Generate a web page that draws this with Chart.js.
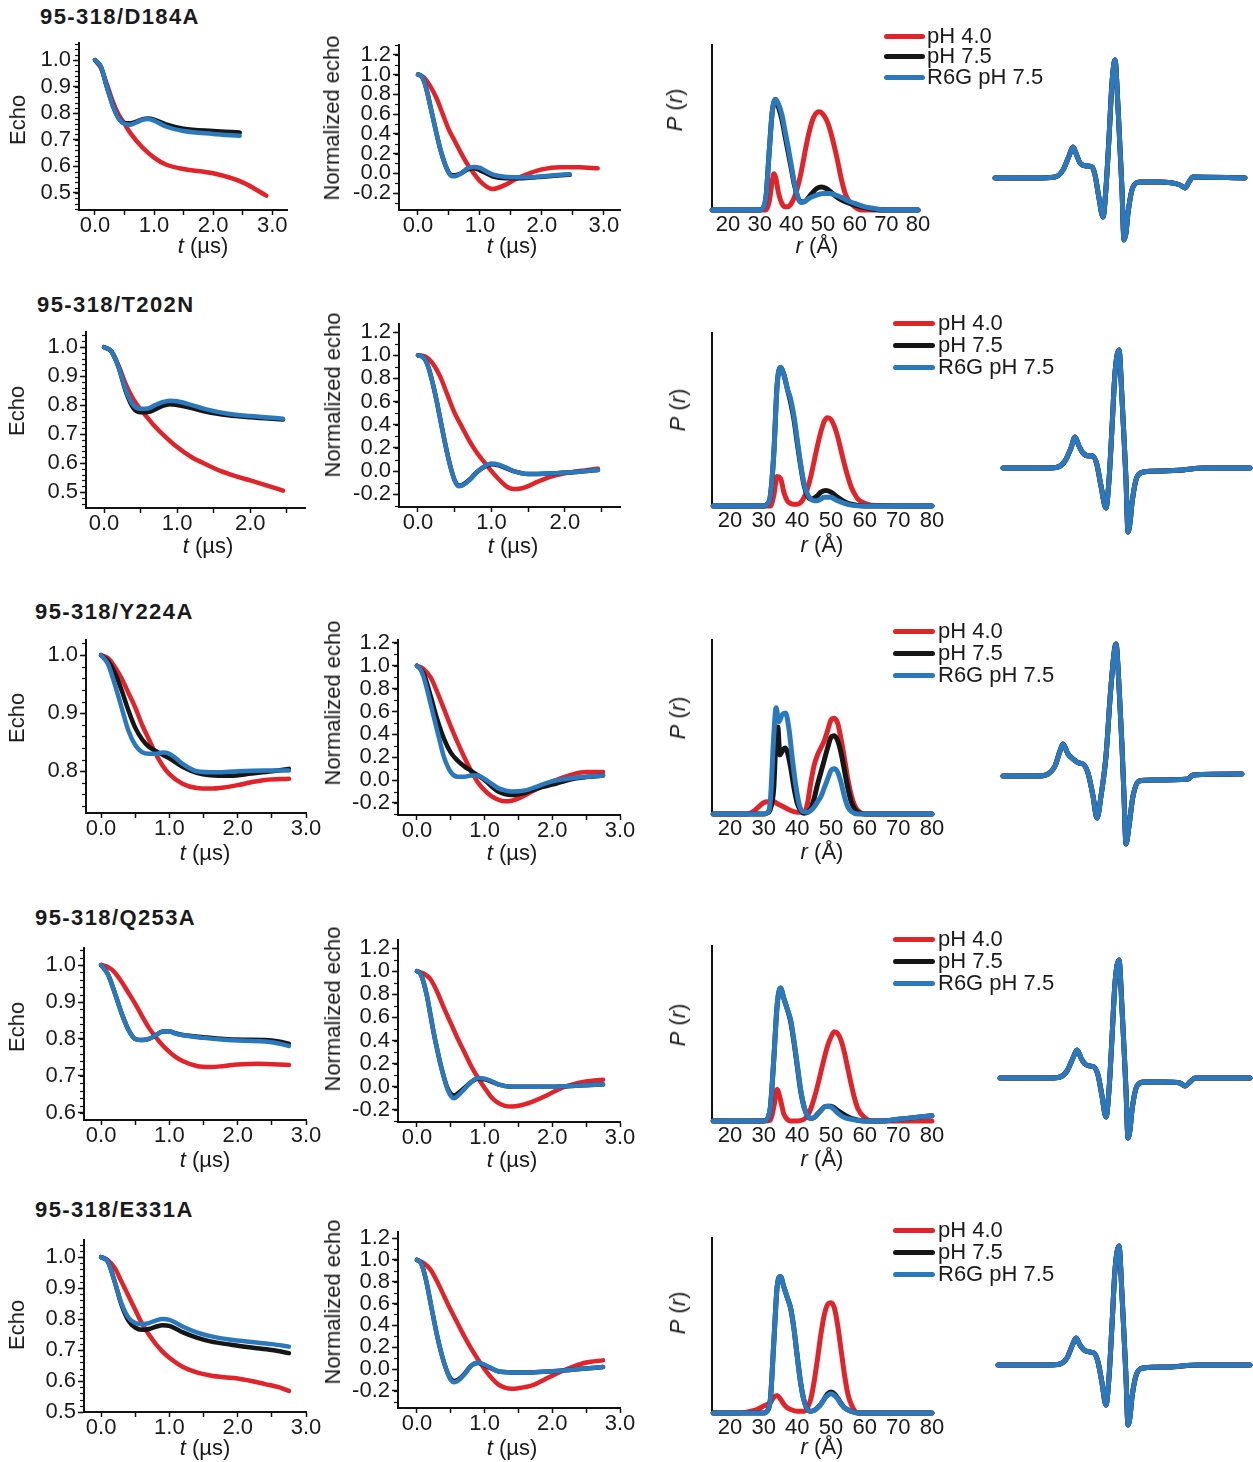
<!DOCTYPE html>
<html><head><meta charset="utf-8">
<script src="https://cdn.jsdelivr.net/npm/chart.js@4.4.1/dist/chart.umd.min.js"></script>
<style>
body{margin:0;background:#fff;width:1253px;height:1462px;position:relative;overflow:hidden;font-family:"Liberation Sans",Arial,sans-serif;color:#1a1a1a}
canvas{position:absolute}
.ttl{position:absolute;font-weight:bold;font-size:22px;letter-spacing:1.4px;white-space:nowrap;transform:translateY(-50%)}
.cap{position:absolute;font-size:22px;white-space:nowrap;transform:translate(-50%,-50%);line-height:1}
.vcap{position:absolute;font-size:22px;white-space:nowrap;transform:translate(-50%,-50%) rotate(-90deg);line-height:1}
.legline{position:absolute;height:5px;border-radius:3px}
.legtxt{position:absolute;font-size:22px;white-space:nowrap;line-height:1;transform:translateY(-50%)}
</style></head><body>
<script>
// ---------------- labels ----------------
const rowTitles = ['95-318/D184A','95-318/T202N','95-318/Y224A','95-318/Q253A','95-318/E331A'];
const seriesLabels = ['pH 4.0','pH 7.5','R6G pH 7.5'];
const seriesColors = ['#e1232a','#161616','#2b79bd'];

// ---------------- tick values ----------------
const echoYTicks1 = [0.5,0.6,0.7,0.8,0.9,1.0];
const echoYTicks2 = [0.5,0.6,0.7,0.8,0.9,1.0];
const echoYTicks3 = [0.8,0.9,1.0];
const echoYTicks4 = [0.6,0.7,0.8,0.9,1.0];
const echoYTicks5 = [0.5,0.6,0.7,0.8,0.9,1.0];
const normYTicks = [-0.2,0,0.2,0.4,0.6,0.8,1.0,1.2];
const timeTicks30 = [0,0.5,1,1.5,2,2.5,3];
const timeTicks25 = [0,0.5,1,1.5,2,2.5];
const rTicks = [20,30,40,50,60,70,80];

// ---------------- row 1 : D184A ----------------
const r1EchoRedT = [0,0.1,0.2,0.3,0.4,0.5,0.6,0.8,1.0,1.2,1.5,2.0,2.5,2.9];
const r1EchoRed  = [1.0,0.97,0.91,0.845,0.795,0.76,0.725,0.672,0.633,0.607,0.59,0.574,0.54,0.49];
const r1EchoBlueT = [0,0.1,0.2,0.3,0.4,0.5,0.6,0.7,0.8,0.9,1.0,1.2,1.5,2.0,2.45];
const r1EchoBlue  = [1.0,0.975,0.9,0.83,0.78,0.76,0.757,0.765,0.775,0.778,0.772,0.75,0.733,0.722,0.715];
const r1EchoBlack = [1.0,0.975,0.9,0.83,0.782,0.763,0.762,0.768,0.777,0.78,0.776,0.758,0.742,0.733,0.727];
const r1NormRedT = [0,0.1,0.2,0.3,0.4,0.5,0.6,0.7,0.8,0.9,1.0,1.2,1.4,1.6,1.8,2.0,2.3,2.6,2.9];
const r1NormRed  = [1.0,0.97,0.88,0.76,0.60,0.44,0.32,0.2,0.09,0.0,-0.08,-0.16,-0.12,-0.05,0.0,0.04,0.06,0.06,0.05];
const r1NormBlueT = [0,0.05,0.1,0.15,0.2,0.25,0.3,0.35,0.4,0.45,0.5,0.55,0.6,0.7,0.8,0.9,1.0,1.1,1.2,1.4,1.6,1.8,2.0,2.2,2.45];
const r1NormBlue  = [1.0,0.99,0.93,0.82,0.68,0.54,0.40,0.27,0.16,0.07,0.0,-0.03,-0.03,0.0,0.05,0.065,0.055,0.02,-0.01,-0.035,-0.04,-0.04,-0.03,-0.02,-0.01];
const r1NormBlack = [1.0,0.99,0.93,0.82,0.68,0.54,0.40,0.27,0.16,0.07,0.005,-0.02,-0.02,0.0,0.04,0.05,0.03,0.0,-0.03,-0.05,-0.05,-0.045,-0.035,-0.025,-0.015];
const r1PrRedR = [15,30,32,33,34,34.5,35,36,37,38,39,40,41,42,43,44,45,46,47,48,49,50,51,52,53,54,55,56,57,58,60,62,80];
const r1PrRed  = [0,0,0,0.05,0.18,0.22,0.2,0.1,0.04,0.02,0.02,0.04,0.08,0.14,0.22,0.32,0.42,0.50,0.56,0.59,0.595,0.58,0.55,0.50,0.43,0.35,0.26,0.17,0.1,0.06,0.02,0.0,0];
const r1PrBlackR = [15,30,31,32,33,34,35,36,37,38,39,40,41,42,43,44,46,48,49.5,51,53,55,57,60,63,66,70,80];
const r1PrBlack  = [0,0,0.01,0.08,0.35,0.6,0.67,0.62,0.55,0.45,0.35,0.25,0.15,0.08,0.05,0.05,0.09,0.13,0.14,0.13,0.1,0.07,0.05,0.03,0.015,0.005,0,0];
const r1PrBlueR = [15,30,31,32,33,34,35,36,37,38,39,40,41,42,43,44,46,48,50,52,54,56,58,60,63,66,70,80];
const r1PrBlue  = [0,0,0.01,0.08,0.35,0.6,0.67,0.64,0.58,0.48,0.38,0.27,0.16,0.08,0.045,0.05,0.075,0.09,0.1,0.1,0.09,0.075,0.055,0.04,0.02,0.01,0,0];
const r1SpecX = [0,40,60,68,74,78,82,85,92,97,100,104,108,111,114,117,120,123,125,127,129,131,133,138,145,165,185,190,194,198,250];
const r1SpecY = [0,0,1,8,22,31,22,15,12,11,3,-20,-39,-10,40,95,118,71,30,-12,-62,-55,-35,-9,-4,-4,-7,-10,-4,1,0];

// ---------------- row 2 : T202N ----------------
const r2EchoRedT = [0,0.1,0.2,0.3,0.4,0.5,0.6,0.7,0.8,1.0,1.2,1.4,1.6,1.8,2.0,2.2,2.45];
const r2EchoRed  = [1.0,0.985,0.935,0.87,0.82,0.785,0.755,0.725,0.70,0.655,0.62,0.595,0.572,0.555,0.54,0.525,0.505];
const r2EchoBlueT = [0,0.1,0.2,0.3,0.4,0.5,0.6,0.7,0.8,0.9,1.0,1.2,1.4,1.7,2.0,2.45];
const r2EchoBlue  = [1.0,0.985,0.93,0.85,0.80,0.787,0.788,0.80,0.81,0.815,0.813,0.80,0.785,0.77,0.762,0.753];
const r2EchoBlack = [1.0,0.985,0.93,0.845,0.79,0.775,0.776,0.785,0.797,0.803,0.80,0.79,0.777,0.765,0.758,0.75];
const r2NormRedT = [0,0.1,0.2,0.3,0.4,0.5,0.6,0.7,0.8,0.9,1.0,1.1,1.2,1.3,1.4,1.5,1.6,1.8,2.0,2.2,2.45];
const r2NormRed  = [1.0,0.99,0.93,0.82,0.66,0.50,0.38,0.26,0.16,0.08,0.0,-0.07,-0.13,-0.155,-0.15,-0.13,-0.10,-0.05,-0.02,0.0,0.02];
const r2NormBlueT = [0,0.05,0.1,0.15,0.2,0.25,0.3,0.35,0.4,0.45,0.5,0.55,0.6,0.7,0.8,0.9,1.0,1.1,1.2,1.3,1.5,1.8,2.1,2.45];
const r2NormBlue  = [1.0,0.99,0.96,0.88,0.76,0.62,0.46,0.30,0.15,0.02,-0.08,-0.13,-0.125,-0.08,-0.01,0.04,0.065,0.055,0.03,0.0,-0.025,-0.02,-0.01,0.01];
const r2NormBlack = [1.0,0.99,0.96,0.88,0.76,0.62,0.46,0.30,0.15,0.02,-0.08,-0.125,-0.12,-0.075,-0.01,0.035,0.06,0.05,0.025,0.0,-0.025,-0.02,-0.01,0.01];
const r2PrRedR = [15,30,32,33,34,35,36,37,38,39,40,41,42,43,44,45,46,47,48,49,50,51,52,53,54,55,56,57,58,60,62,80];
const r2PrRed  = [0,0,0,0.06,0.17,0.16,0.08,0.03,0.015,0.01,0.01,0.02,0.05,0.1,0.17,0.26,0.35,0.43,0.49,0.51,0.5,0.46,0.4,0.32,0.24,0.17,0.11,0.07,0.04,0.015,0.005,0];
const r2PrBlackR = [15,30,31,32,33,34,35,36,37,38,39,40,41,42,43,44,46,47,48.5,50,52,54,56,60,80];
const r2PrBlack  = [0,0,0.01,0.06,0.3,0.7,0.8,0.76,0.68,0.6,0.5,0.36,0.23,0.12,0.06,0.04,0.06,0.08,0.09,0.08,0.05,0.025,0.01,0,0];
const r2PrBlueR = [15,30,31,32,33,34,35,36,37,38,39,40,41,42,43,44,45,46,47,48,49,50,51,52,54,56,60,80];
const r2PrBlue  = [0,0,0.01,0.06,0.3,0.7,0.8,0.76,0.68,0.62,0.52,0.38,0.24,0.13,0.07,0.04,0.03,0.03,0.04,0.05,0.05,0.05,0.04,0.03,0.015,0.005,0,0];
const r2SpecX = [0,45,55,62,68,72,76,80,86,90,94,98,103,106,109,112,116,119,121,123,125,127,129,134,141,160,180,200,247];
const r2SpecY = [0,0,1,7,20,31,22,15,12,12,3,-18,-40,-12,40,95,118,70,30,-12,-64,-55,-35,-9,-4,-3,-2,0,0];

// ---------------- row 3 : Y224A ----------------
const r3EchoRedT = [0,0.1,0.2,0.3,0.4,0.5,0.6,0.7,0.8,0.9,1.0,1.2,1.4,1.6,1.8,2.0,2.2,2.4,2.75];
const r3EchoRed  = [1.0,0.995,0.98,0.96,0.935,0.91,0.88,0.855,0.83,0.81,0.795,0.778,0.771,0.77,0.772,0.776,0.781,0.785,0.787];
const r3EchoBlackT = [0,0.1,0.2,0.3,0.4,0.5,0.6,0.7,0.8,1.0,1.2,1.4,1.6,1.9,2.2,2.5,2.75];
const r3EchoBlack  = [1.0,0.99,0.97,0.94,0.905,0.875,0.855,0.842,0.835,0.822,0.807,0.797,0.793,0.792,0.796,0.8,0.804];
const r3EchoBlueT = [0,0.1,0.2,0.3,0.4,0.5,0.6,0.7,0.8,0.9,1.0,1.1,1.2,1.4,1.7,2.0,2.4,2.75];
const r3EchoBlue  = [1.0,0.985,0.95,0.91,0.87,0.845,0.833,0.83,0.83,0.832,0.83,0.822,0.812,0.8,0.798,0.8,0.801,0.801];
const r3NormRedT = [0,0.1,0.2,0.3,0.4,0.5,0.6,0.7,0.8,0.9,1.0,1.1,1.2,1.3,1.4,1.5,1.7,1.9,2.1,2.3,2.5,2.75];
const r3NormRed  = [1.0,0.97,0.9,0.77,0.62,0.47,0.33,0.2,0.08,-0.02,-0.09,-0.14,-0.17,-0.185,-0.18,-0.16,-0.1,-0.04,0.01,0.05,0.07,0.07];
const r3NormBlackT = [0,0.1,0.2,0.3,0.4,0.5,0.6,0.7,0.8,1.0,1.2,1.4,1.6,1.8,2.0,2.3,2.75];
const r3NormBlack  = [1.0,0.93,0.74,0.53,0.36,0.24,0.17,0.12,0.08,0.0,-0.1,-0.13,-0.11,-0.07,-0.04,0.01,0.04];
const r3NormBlueT = [0,0.05,0.1,0.15,0.2,0.25,0.3,0.35,0.4,0.5,0.6,0.7,0.8,0.9,1.0,1.1,1.2,1.3,1.4,1.6,1.8,2.0,2.2,2.5,2.75];
const r3NormBlue  = [1.0,0.97,0.9,0.79,0.67,0.55,0.43,0.31,0.2,0.07,0.03,0.03,0.04,0.04,0.01,-0.03,-0.07,-0.09,-0.1,-0.09,-0.05,-0.01,0.01,0.03,0.04];
const r3PrRedR = [15,25,27,29,30,31,32,33,34,35,36,37,38,40,42,43,44,45,46,47,48,49,50,51,52,53,54,55,56,57,58,60,80];
const r3PrRed  = [0,0,0.015,0.05,0.065,0.07,0.065,0.07,0.06,0.05,0.04,0.03,0.02,0.01,0.01,0.06,0.18,0.28,0.34,0.38,0.42,0.48,0.54,0.55,0.52,0.43,0.32,0.2,0.11,0.05,0.02,0,0];
const r3PrBlackR = [15,30,31,32,33,33.7,34.2,34.8,35.5,36.3,37,38,39,40,41,42,44,45,46,47,48,49,50,51,52,53,54,55,56,57,58,60,80];
const r3PrBlack  = [0,0,0.005,0.03,0.15,0.45,0.5,0.34,0.36,0.38,0.36,0.27,0.15,0.06,0.02,0.005,0.03,0.09,0.17,0.24,0.31,0.38,0.44,0.45,0.42,0.35,0.25,0.15,0.07,0.03,0.01,0,0];
const r3PrBlueR = [15,30,31,32,33,33.7,34.5,35.5,36.5,37.5,38.5,39.5,40.5,41.5,43,44,45,46,47,48,49,50,51,52,53,54,55,56,58,80];
const r3PrBlue  = [0,0,0.005,0.08,0.45,0.61,0.53,0.57,0.58,0.49,0.32,0.17,0.06,0.015,0.01,0.02,0.04,0.07,0.1,0.15,0.2,0.25,0.26,0.24,0.18,0.1,0.04,0.015,0,0];
const r3SpecX = [0,35,45,52,57,60,65,70,76,80,85,90,94,98,103,108,113,116,119,121,123,126,130,136,150,185,190,239];
const r3SpecY = [0,0,2,10,25,32,22,17,13,12,3,-20,-42,-20,20,90,132,90,30,-20,-68,-50,-20,-5,-4,-3,1,2];

// ---------------- row 4 : Q253A ----------------
const r4EchoRedT = [0,0.1,0.2,0.3,0.4,0.5,0.6,0.7,0.8,0.9,1.0,1.1,1.2,1.4,1.6,1.8,2.0,2.3,2.75];
const r4EchoRed  = [1.0,0.995,0.98,0.955,0.925,0.895,0.862,0.83,0.805,0.783,0.765,0.75,0.74,0.727,0.724,0.727,0.731,0.733,0.73];
const r4EchoBlueT = [0,0.1,0.2,0.3,0.4,0.5,0.6,0.7,0.8,0.9,1.0,1.1,1.2,1.5,1.8,2.1,2.4,2.6,2.75];
const r4EchoBlue  = [1.0,0.975,0.925,0.87,0.825,0.8,0.797,0.8,0.81,0.82,0.82,0.814,0.81,0.803,0.798,0.795,0.793,0.788,0.781];
const r4EchoBlack = [1.0,0.975,0.925,0.87,0.825,0.8,0.797,0.8,0.81,0.82,0.82,0.815,0.811,0.805,0.8,0.798,0.797,0.793,0.787];
const r4NormRedT = [0,0.1,0.2,0.3,0.4,0.5,0.6,0.7,0.8,0.9,1.0,1.1,1.2,1.3,1.4,1.5,1.7,1.9,2.1,2.3,2.5,2.75];
const r4NormRed  = [1.0,0.98,0.93,0.82,0.68,0.55,0.42,0.3,0.18,0.08,-0.01,-0.09,-0.14,-0.165,-0.17,-0.165,-0.13,-0.08,-0.02,0.02,0.045,0.06];
const r4NormBlueT = [0,0.05,0.1,0.15,0.2,0.25,0.3,0.35,0.4,0.45,0.5,0.55,0.6,0.7,0.8,0.9,1.0,1.1,1.2,1.4,1.7,2.0,2.4,2.75];
const r4NormBlue  = [1.0,0.98,0.9,0.78,0.62,0.46,0.32,0.19,0.08,-0.02,-0.08,-0.1,-0.08,-0.02,0.04,0.075,0.07,0.05,0.02,0.0,0.0,0.0,0.01,0.02];
const r4NormBlack = [1.0,0.98,0.9,0.78,0.62,0.46,0.32,0.19,0.08,-0.01,-0.06,-0.075,-0.06,-0.01,0.04,0.07,0.065,0.045,0.02,0.0,0.0,0.0,0.01,0.02];
const r4PrRedR = [15,30,32,33,34,35,36,37,38,40,42,43,44,45,46,47,48,49,50,51,52,53,54,55,56,57,58,60,62,80];
const r4PrRed  = [0,0,0.005,0.08,0.18,0.12,0.04,0.01,0,0,0.01,0.03,0.07,0.13,0.2,0.28,0.36,0.43,0.48,0.51,0.5,0.46,0.39,0.3,0.21,0.13,0.07,0.02,0,0];
const r4PrBlueR = [15,30,31,32,33,34,35,36,37,38,39,40,41,42,43,44,45,46,47,48,49,50,51,52,54,56,60,65,70,75,80];
const r4PrBlue  = [0,0,0.01,0.08,0.35,0.66,0.76,0.7,0.64,0.58,0.46,0.32,0.18,0.08,0.03,0.015,0.02,0.04,0.06,0.08,0.085,0.08,0.065,0.045,0.02,0.01,0.0,0.0,0.01,0.02,0.03];
const r4PrBlack = [0,0,0.01,0.08,0.35,0.66,0.76,0.7,0.64,0.57,0.45,0.31,0.17,0.08,0.03,0.015,0.02,0.04,0.06,0.08,0.085,0.085,0.075,0.06,0.035,0.015,0.0,0.0,0.01,0.02,0.03];
const r4SpecX = [0,50,60,67,73,77,81,85,90,94,98,102,106,109,112,115,119,122,124,126,128,130,132,137,144,165,180,185,190,195,250];
const r4SpecY = [0,0,1,7,20,28,20,14,12,11,3,-18,-39,-12,40,95,118,70,30,-12,-60,-52,-32,-8,-4,-4,-5,-8,-4,0,0];

// ---------------- row 5 : E331A ----------------
const r5EchoRedT = [0,0.1,0.2,0.3,0.4,0.5,0.6,0.7,0.8,0.9,1.0,1.2,1.4,1.6,1.8,2.0,2.2,2.4,2.6,2.75];
const r5EchoRed  = [1.0,0.99,0.965,0.92,0.875,0.83,0.785,0.75,0.72,0.695,0.675,0.645,0.628,0.618,0.612,0.608,0.6,0.59,0.58,0.568];
const r5EchoBlueT = [0,0.1,0.2,0.3,0.4,0.5,0.6,0.7,0.8,0.9,1.0,1.1,1.2,1.4,1.6,1.9,2.2,2.5,2.75];
const r5EchoBlue  = [1.0,0.985,0.92,0.85,0.805,0.787,0.783,0.787,0.795,0.8,0.797,0.787,0.775,0.757,0.745,0.733,0.726,0.719,0.711];
const r5EchoBlack = [1.0,0.985,0.92,0.845,0.795,0.772,0.765,0.768,0.775,0.78,0.778,0.768,0.757,0.74,0.728,0.717,0.708,0.7,0.69];
const r5NormRedT = [0,0.1,0.2,0.3,0.4,0.5,0.6,0.7,0.8,0.9,1.0,1.1,1.2,1.3,1.4,1.5,1.7,1.9,2.1,2.3,2.5,2.75];
const r5NormRed  = [1.0,0.97,0.91,0.8,0.67,0.54,0.42,0.3,0.19,0.09,0.0,-0.08,-0.14,-0.17,-0.18,-0.175,-0.15,-0.09,-0.03,0.02,0.06,0.08];
const r5NormBlueT = [0,0.05,0.1,0.15,0.2,0.25,0.3,0.35,0.4,0.45,0.5,0.55,0.6,0.7,0.8,0.9,1.0,1.1,1.2,1.4,1.7,2.0,2.4,2.75];
const r5NormBlue  = [1.0,0.98,0.9,0.77,0.61,0.45,0.3,0.17,0.06,-0.03,-0.1,-0.12,-0.11,-0.05,0.03,0.06,0.04,0.01,-0.02,-0.03,-0.03,-0.02,0.0,0.02];
const r5NormBlack = [1.0,0.98,0.9,0.77,0.61,0.45,0.3,0.17,0.06,-0.03,-0.09,-0.11,-0.1,-0.045,0.03,0.055,0.035,0.005,-0.02,-0.03,-0.03,-0.02,0.0,0.02];
const r5PrRedR = [15,22,25,28,30,32,33,34,35,36,37,38,40,42,43,44,45,46,47,48,49,50,51,52,53,54,55,56,58,80];
const r5PrRed  = [0,0,0.005,0.02,0.04,0.06,0.09,0.1,0.08,0.05,0.03,0.02,0.01,0.01,0.03,0.08,0.18,0.31,0.45,0.56,0.62,0.63,0.6,0.5,0.36,0.22,0.11,0.05,0,0];
const r5PrBlueR = [15,30,31,32,33,34,35,36,37,38,39,40,41,42,43,44,45,46,47,48,49,50,51,52,53,54,56,58,80];
const r5PrBlue  = [0,0,0.01,0.08,0.4,0.72,0.78,0.72,0.66,0.6,0.48,0.32,0.17,0.07,0.02,0.01,0.015,0.03,0.05,0.08,0.1,0.11,0.1,0.08,0.05,0.03,0.01,0,0];
const r5PrBlack = [0,0,0.01,0.08,0.4,0.72,0.78,0.72,0.66,0.6,0.48,0.32,0.17,0.07,0.02,0.01,0.015,0.03,0.05,0.08,0.11,0.12,0.11,0.085,0.055,0.03,0.01,0,0];
const r5SpecX = [0,50,62,69,74,78,82,86,92,96,100,104,108,111,114,117,121,124,126,128,130,132,134,139,146,170,200,252];
const r5SpecY = [0,0,1,7,19,27,20,15,13,12,3,-18,-40,-12,40,95,119,70,30,-12,-60,-52,-32,-8,-3,-2,0,0];

// ---------------- assemble per-row tables ----------------
const rowData = [
  {echo:[[r1EchoRedT,r1EchoRed],[r1EchoBlueT,r1EchoBlack],[r1EchoBlueT,r1EchoBlue]],
   norm:[[r1NormRedT,r1NormRed],[r1NormBlueT,r1NormBlack],[r1NormBlueT,r1NormBlue]],
   pr:[[r1PrRedR,r1PrRed],[r1PrBlackR,r1PrBlack],[r1PrBlueR,r1PrBlue]],
   spec:[r1SpecX,r1SpecY], echoY:echoYTicks1, time:timeTicks30},
  {echo:[[r2EchoRedT,r2EchoRed],[r2EchoBlueT,r2EchoBlack],[r2EchoBlueT,r2EchoBlue]],
   norm:[[r2NormRedT,r2NormRed],[r2NormBlueT,r2NormBlack],[r2NormBlueT,r2NormBlue]],
   pr:[[r2PrRedR,r2PrRed],[r2PrBlackR,r2PrBlack],[r2PrBlueR,r2PrBlue]],
   spec:[r2SpecX,r2SpecY], echoY:echoYTicks2, time:timeTicks25},
  {echo:[[r3EchoRedT,r3EchoRed],[r3EchoBlackT,r3EchoBlack],[r3EchoBlueT,r3EchoBlue]],
   norm:[[r3NormRedT,r3NormRed],[r3NormBlackT,r3NormBlack],[r3NormBlueT,r3NormBlue]],
   pr:[[r3PrRedR,r3PrRed],[r3PrBlackR,r3PrBlack],[r3PrBlueR,r3PrBlue]],
   spec:[r3SpecX,r3SpecY], echoY:echoYTicks3, time:timeTicks30},
  {echo:[[r4EchoRedT,r4EchoRed],[r4EchoBlueT,r4EchoBlack],[r4EchoBlueT,r4EchoBlue]],
   norm:[[r4NormRedT,r4NormRed],[r4NormBlueT,r4NormBlack],[r4NormBlueT,r4NormBlue]],
   pr:[[r4PrRedR,r4PrRed],[r4PrBlueR,r4PrBlack],[r4PrBlueR,r4PrBlue]],
   spec:[r4SpecX,r4SpecY], echoY:echoYTicks4, time:timeTicks30},
  {echo:[[r5EchoRedT,r5EchoRed],[r5EchoBlueT,r5EchoBlack],[r5EchoBlueT,r5EchoBlue]],
   norm:[[r5NormRedT,r5NormRed],[r5NormBlueT,r5NormBlack],[r5NormBlueT,r5NormBlue]],
   pr:[[r5PrRedR,r5PrRed],[r5PrBlueR,r5PrBlack],[r5PrBlueR,r5PrBlue]],
   spec:[r5SpecX,r5SpecY], echoY:echoYTicks5, time:timeTicks30}
];

// ---------------- layout (pixel placement only) ----------------
const layout = [
 {title:[40,17],
  A:{L:79,T:43,R:287,B:210,x:[-0.27,3.25],y:[0.436,1.064]},
  B:{L:399,T:45,R:620,B:210,x:[-0.306,3.26],y:[-0.372,1.30]},
  C:{L:712,T:45,R:922,B:210,x:[14.95,81.25]},
  D:{x0:995,base:178},
  leg:{x1:884,x2:925,tx:927,y:[36,56,77]},
  capA:[18,120],capB:[332,118],capC:[675,110],xA:[203,246],xB:[512,246],xC:[817,246]},
 {title:[37,305],
  A:{L:86,T:332,R:305,B:508,x:[-0.247,2.75],y:[0.445,1.052]},
  B:{L:399,T:324,R:620,B:507,x:[-0.258,2.75],y:[-0.31,1.27]},
  C:{L:712,T:333,R:935,B:506,x:[14.65,80.9]},
  D:{x0:1003,base:468},
  leg:{x1:893,x2:935,tx:938,y:[323,345,367]},
  capA:[17,411],capB:[333,395],capC:[678,410],xA:[208,546],xB:[513,546],xC:[822,545]},
 {title:[35,612],
  A:{L:86,T:640,R:306,B:813,x:[-0.22,3.0],y:[0.728,1.026]},
  B:{L:398,T:640,R:620,B:815,x:[-0.28,3.0],y:[-0.305,1.225]},
  C:{L:712,T:640,R:935,B:814,x:[14.65,80.9]},
  D:{x0:1003,base:776},
  leg:{x1:893,x2:935,tx:938,y:[631,653,675]},
  capA:[17,718],capB:[333,703],capC:[678,718],xA:[205,853],xB:[512,853],xC:[822,852]},
 {title:[35,918],
  A:{L:84,T:948,R:306,B:1120,x:[-0.25,3.0],y:[0.581,1.046]},
  B:{L:398,T:940,R:620,B:1122,x:[-0.28,3.0],y:[-0.305,1.27]},
  C:{L:712,T:946,R:935,B:1121,x:[14.65,80.9]},
  D:{x0:1000,base:1078},
  leg:{x1:893,x2:935,tx:938,y:[939,961,983]},
  capA:[17,1027],capB:[333,1009],capC:[678,1025],xA:[205,1160],xB:[512,1160],xC:[822,1159]},
 {title:[35,1210],
  A:{L:84,T:1240,R:306,B:1412,x:[-0.25,3.0],y:[0.5,1.055]},
  B:{L:398,T:1232,R:620,B:1408,x:[-0.28,3.0],y:[-0.356,1.255]},
  C:{L:712,T:1238,R:935,B:1413,x:[14.65,80.9]},
  D:{x0:998,base:1365},
  leg:{x1:893,x2:935,tx:938,y:[1230,1252,1274]},
  capA:[17,1325],capB:[333,1302],capC:[678,1313],xA:[205,1448],xB:[512,1448],xC:[822,1447]}
];

// ---------------- drawing helpers ----------------
const FONT = '"Liberation Sans", Arial, sans-serif';
Chart.defaults.font.family = FONT;
const INK = '#1a1a1a';

const minorTicksPlugin = {
  id: 'minorTicks',
  afterDraw(chart, args, opts) {
    if (!opts || !opts.step) return;
    const s = chart.scales.y, ctx = chart.ctx, left = chart.chartArea.left;
    ctx.save(); ctx.strokeStyle = '#111'; ctx.lineWidth = 1.2;
    const k0 = Math.ceil(s.min / opts.step - 1e-6);
    for (let k = k0; k * opts.step <= s.max + 1e-6; k++) {
      const py = Math.round(s.getPixelForValue(k * opts.step)) + 0.5;
      ctx.beginPath(); ctx.moveTo(left - 1, py); ctx.lineTo(left - 4, py); ctx.stroke();
    }
    ctx.restore();
  }
};

function seriesSets(pairs, lw) {
  return pairs.map((p, i) => ({
    label: seriesLabels[i],
    data: p[0].map((x, j) => ({x: x, y: p[1][j]})),
    borderColor: seriesColors[i], backgroundColor: seriesColors[i],
    borderWidth: lw, pointRadius: 0, cubicInterpolationMode: 'monotone',
    order: 3 - i, clip: 10, borderCapStyle: 'round', borderJoinStyle: 'round'
  }));
}

function axisChart(box, xTicks, yTicks, datasets, kind, minorStep) {
  const ML = 70, MB = 40, PT = 16, PR = 26;
  const cv = document.createElement('canvas');
  cv.width = ML + (box.R - box.L) + PR;
  cv.height = PT + (box.B - box.T) + MB;
  cv.style.left = (box.L - ML) + 'px';
  cv.style.top = (box.T - PT) + 'px';
  document.body.appendChild(cv);
  const isPr = kind === 'pr';
  const yr = isPr ? [0, 1] : box.y;
  new Chart(cv, {
    type: 'line',
    data: {datasets},
    options: {
      responsive: false, animation: false, devicePixelRatio: 1, events: [],
      layout: {padding: {top: PT, right: PR, left: 0, bottom: 0}},
      plugins: {legend: {display: false}, tooltip: {enabled: false}, minorTicks: {step: minorStep || 0}},
      scales: {
        x: {
          type: 'linear', min: box.x[0], max: box.x[1],
          afterBuildTicks: s => { s.ticks = xTicks.map(v => ({value: v})); },
          afterFit: s => { s.height = MB; s.paddingLeft = 0; s.paddingRight = 0; },
          ticks: {autoSkip: false, maxRotation: 0, minRotation: 0, padding: isPr ? -3 : -2, color: INK,
                  font: {family: FONT, size: 22},
                  callback: isPr ? (v => String(v)) : (v => Number.isInteger(v) ? v.toFixed(1) : '')},
          grid: {display: !isPr, drawOnChartArea: false, drawTicks: true, tickLength: 5, tickWidth: 1.5, tickColor: '#111'},
          border: {display: !isPr, color: '#111', width: 2}
        },
        y: {
          type: 'linear', min: yr[0], max: yr[1],
          afterBuildTicks: s => { s.ticks = yTicks.map(v => ({value: v})); },
          afterFit: s => { s.width = ML; s.paddingTop = 0; s.paddingBottom = 0; },
          ticks: {display: !isPr, autoSkip: false, padding: 2, color: INK, font: {family: FONT, size: 22},
                  callback: v => v.toFixed(1)},
          grid: {display: !isPr, drawOnChartArea: false, drawTicks: true, tickLength: 6, tickWidth: 1.5, tickColor: '#111'},
          border: {display: true, color: '#111', width: 2}
        }
      }
    },
    plugins: [minorTicksPlugin]
  });
}

function specChart(d, xs, ys) {
  const pad = 8, up = 145, down = 85;
  const xmax = xs[xs.length - 1];
  const cv = document.createElement('canvas');
  cv.width = xmax + 2 * pad; cv.height = up + down;
  cv.style.left = (d.x0 - pad) + 'px'; cv.style.top = (d.base - up) + 'px';
  document.body.appendChild(cv);
  new Chart(cv, {
    type: 'line',
    data: {datasets: seriesSets([[xs, ys], [xs, ys], [xs, ys]], 5)},
    options: {
      responsive: false, animation: false, devicePixelRatio: 1, events: [],
      layout: {padding: 0},
      plugins: {legend: {display: false}, tooltip: {enabled: false}},
      scales: {
        x: {type: 'linear', display: false, min: -pad, max: xmax + pad},
        y: {type: 'linear', display: false, min: -down, max: up}
      }
    }
  });
}

function addHTML(cls, x, y, html) {
  const d = document.createElement('div');
  d.className = cls; d.style.left = x + 'px'; d.style.top = y + 'px';
  d.innerHTML = html; document.body.appendChild(d); return d;
}

// ---------------- build the figure ----------------
rowData.forEach((rd, r) => {
  const lo = layout[r];
  addHTML('ttl', lo.title[0], lo.title[1], rowTitles[r]);
  axisChart(lo.A, rd.time, rd.echoY, seriesSets(rd.echo, 4.5), 'echo', 0.02);
  axisChart(lo.B, rd.time, normYTicks, seriesSets(rd.norm, 4.5), 'norm', 0.1);
  axisChart(lo.C, rTicks, [0], seriesSets(rd.pr, 5), 'pr', 0);
  specChart(lo.D, rd.spec[0], rd.spec[1]);
  addHTML('vcap', lo.capA[0], lo.capA[1], 'Echo');
  addHTML('vcap', lo.capB[0], lo.capB[1], 'Normalized echo');
  addHTML('vcap', lo.capC[0], lo.capC[1], '<i>P</i> (<i>r</i>)');
  addHTML('cap', lo.xA[0], lo.xA[1], '<i>t</i> (µs)');
  addHTML('cap', lo.xB[0], lo.xB[1], '<i>t</i> (µs)');
  addHTML('cap', lo.xC[0], lo.xC[1], '<i>r</i> (Å)');
  seriesLabels.forEach((lab, i) => {
    const ln = addHTML('legline', lo.leg.x1, lo.leg.y[i] - 2.5, '');
    ln.style.width = (lo.leg.x2 - lo.leg.x1) + 'px';
    ln.style.background = seriesColors[i];
    addHTML('legtxt', lo.leg.tx, lo.leg.y[i], lab);
  });
});
</script>
</body></html>
